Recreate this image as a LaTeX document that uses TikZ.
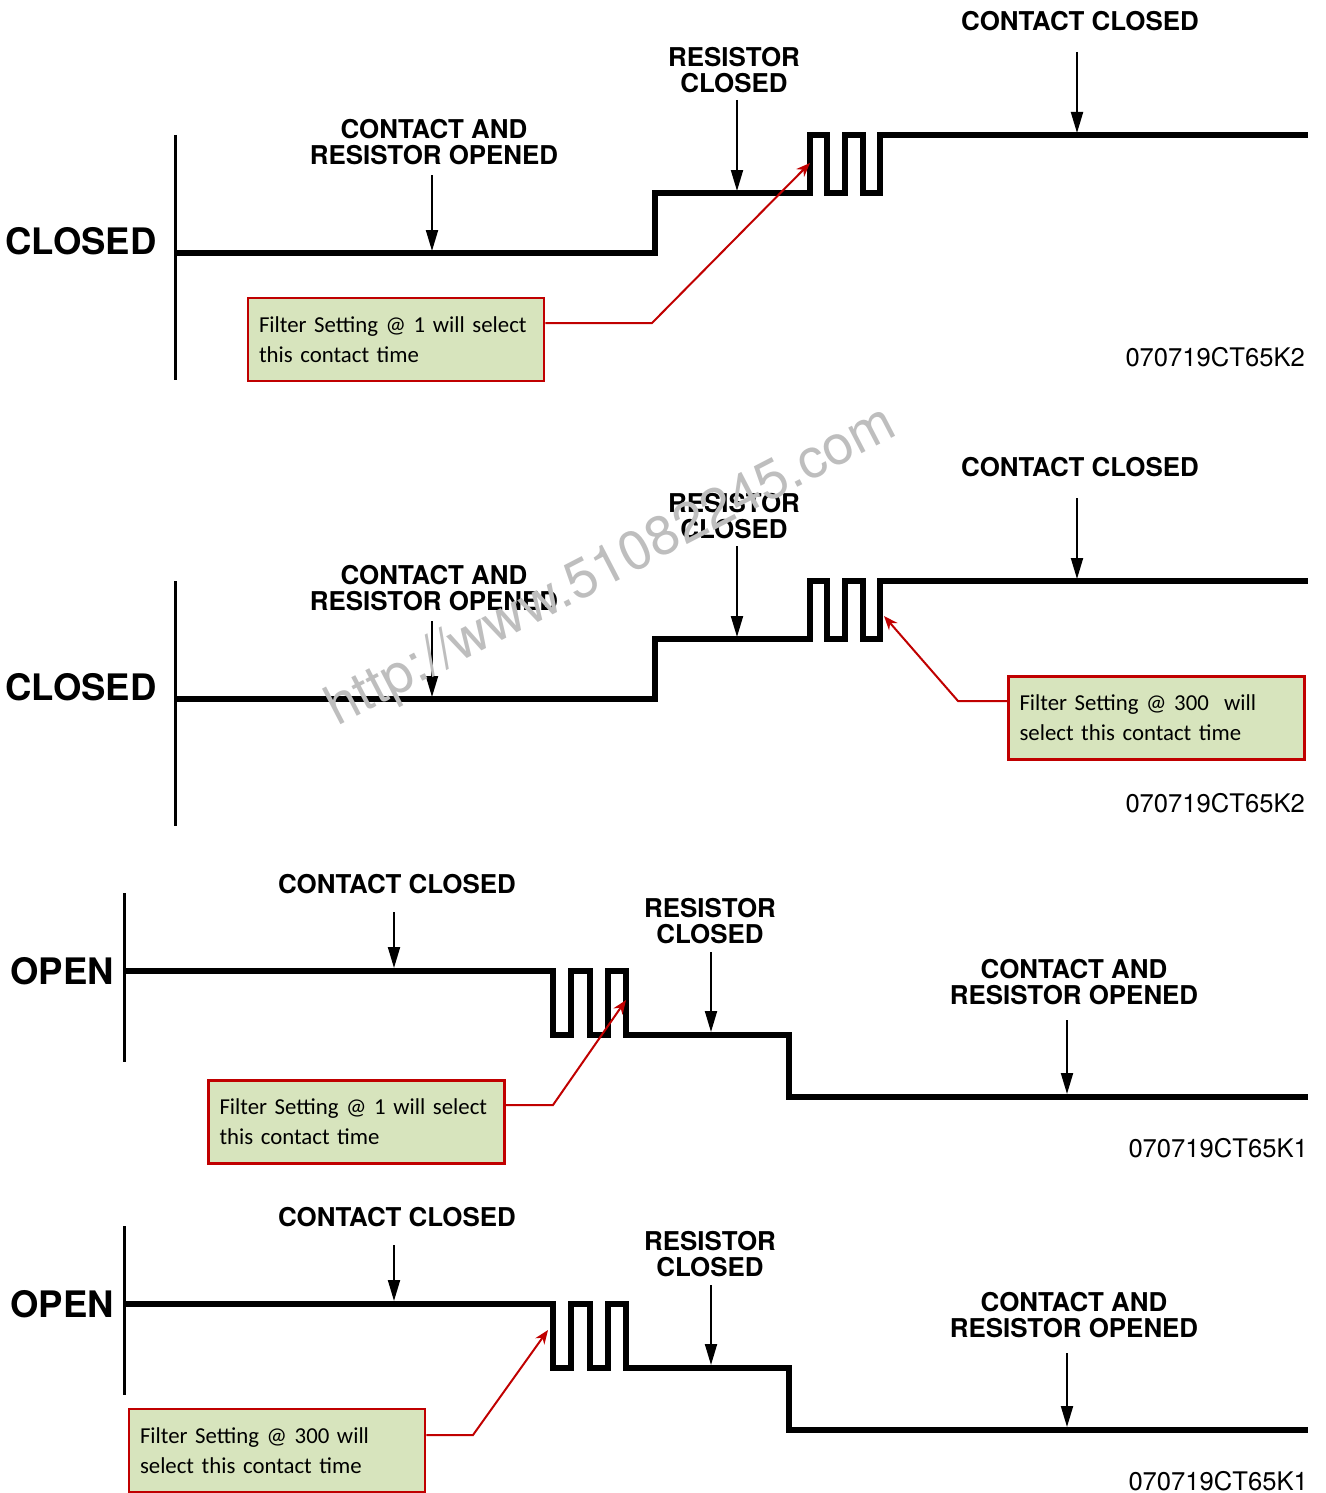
\documentclass[tikz,border=0pt]{standalone}
\usepackage{fontspec}
\setmainfont{TeX Gyre Heros}
\newfontfamily\calfont{Carlito}
\usetikzlibrary{arrows.meta}
\definecolor{cred}{RGB}{192,0,0}
\definecolor{cgreen}{RGB}{215,228,189}
\definecolor{wm}{RGB}{190,190,190}
\tikzset{
 wave/.style={line width=5.5pt, line join=miter},
 axisline/.style={line width=3pt},
 marker/.style={line width=2pt, -{Triangle[length=21pt,width=12pt]}},
 lbl/.style={font=\bfseries\fontsize{25.9}{26.5}\selectfont, align=center, inner sep=0pt},
 biglbl/.style={font=\bfseries\fontsize{36.5}{38}\selectfont, inner sep=0pt},
 codelbl/.style={font=\fontsize{25.6}{26}\selectfont, inner sep=0pt},
 callout/.style={draw=cred, line width=2.5pt, fill=cgreen, text width=274pt, minimum height=83pt, inner xsep=11pt, align=left, font=\calfont\fontsize{22.8}{30}\selectfont},
 pointer/.style={cred, line width=2pt, -{Stealth[length=14pt,width=11pt]}},
}
\newcommand\closedpanel[2]{%
\begin{scope}[yshift=-#2pt]
 \node[biglbl] (#1big) at (81,241) {CLOSED};
 \node[lbl] (#1cc) at (1080,21) {CONTACT CLOSED};
 \node[lbl] (#1rc) at (734,70) {RESISTOR\\CLOSED};
 \node[lbl] (#1cro) at (434,142) {CONTACT AND\\RESISTOR OPENED};
 \node[codelbl, anchor=east] (#1code) at (1305,357) {070719CT65K2};
 \draw[axisline] (175,135) -- (175,380);
 \draw[wave] (175,253) -| (655,193) -| (810,135) -| (827,193) -| (845,135) -| (863,193) -| (880,135) -- (1308,135);
 \coordinate (#1a1s) at (432,175); \coordinate (#1a1e) at (432,251);
 \coordinate (#1a2s) at (737,100); \coordinate (#1a2e) at (737,191);
 \coordinate (#1a3s) at (1077,52); \coordinate (#1a3e) at (1077,133);
 \draw[marker] (#1a1s) -- (#1a1e);
 \draw[marker] (#1a2s) -- (#1a2e);
 \draw[marker] (#1a3s) -- (#1a3e);
\end{scope}}
\newcommand\openpanel[2]{%
\begin{scope}[yshift=-#2pt]
 \node[biglbl] (#1big) at (62,971) {OPEN};
 \node[lbl] (#1cc) at (397,884) {CONTACT CLOSED};
 \node[lbl] (#1rc) at (710,921) {RESISTOR\\CLOSED};
 \node[lbl] (#1cro) at (1074,982) {CONTACT AND\\RESISTOR OPENED};
 \node[codelbl, anchor=east] (#1code) at (1308,1148) {070719CT65K1};
 \draw[axisline] (124,893) -- (124,1062);
 \draw[wave] (124,971) -| (553,1035) -| (571,971) -| (590,1035) -| (608,971) -| (626,1035) -| (789,1097) -- (1308,1097);
 \coordinate (#1a1s) at (394,912); \coordinate (#1a1e) at (394,968);
 \coordinate (#1a2s) at (711,952); \coordinate (#1a2e) at (711,1032);
 \coordinate (#1a3s) at (1067,1020); \coordinate (#1a3e) at (1067,1094);
 \draw[marker] (#1a1s) -- (#1a1e);
 \draw[marker] (#1a2s) -- (#1a2e);
 \draw[marker] (#1a3s) -- (#1a3e);
\end{scope}}
\begin{document}
\begin{tikzpicture}[x=1pt,y=-1pt]
\useasboundingbox (0,0) rectangle (1325,1493);
\closedpanel{p1}{0}
\closedpanel{p2}{446}
\openpanel{p3}{0}
\openpanel{p4}{333}
% callouts
\node[callout] (c1) at (396,339.5) {Filter Setting @ 1 will select\\this contact time};
\coordinate (c1b) at (652,323); \coordinate (c1t) at (810,163);
\draw[pointer] (c1.east |- c1b) -- (c1b) -- (c1t);
\node[callout] (c2) at (1156.5,718) {Filter Setting @ 300\ \ will\\select this contact time};
\coordinate (c2b) at (958,701); \coordinate (c2t) at (884,616);
\draw[pointer] (c2.west |- c2b) -- (c2b) -- (c2t);
\node[callout] (c3) at (356.5,1122) {Filter Setting @ 1 will select\\this contact time};
\coordinate (c3b) at (553,1105); \coordinate (c3t) at (626,1000);
\draw[pointer] (c3.east |- c3b) -- (c3b) -- (c3t);
\node[callout] (c4) at (277,1450.5) {Filter Setting @ 300 will\\select this contact time};
\coordinate (c4b) at (473,1435); \coordinate (c4t) at (548,1330);
\draw[pointer] (c4.east |- c4b) -- (c4b) -- (c4t);
% watermark
\node[rotate=27.4, text=wm, font=\fontsize{55}{55}\selectfont, inner sep=0pt] (wmark) at (612,568) {http://www.51082245.com};
\end{tikzpicture}
\end{document}
